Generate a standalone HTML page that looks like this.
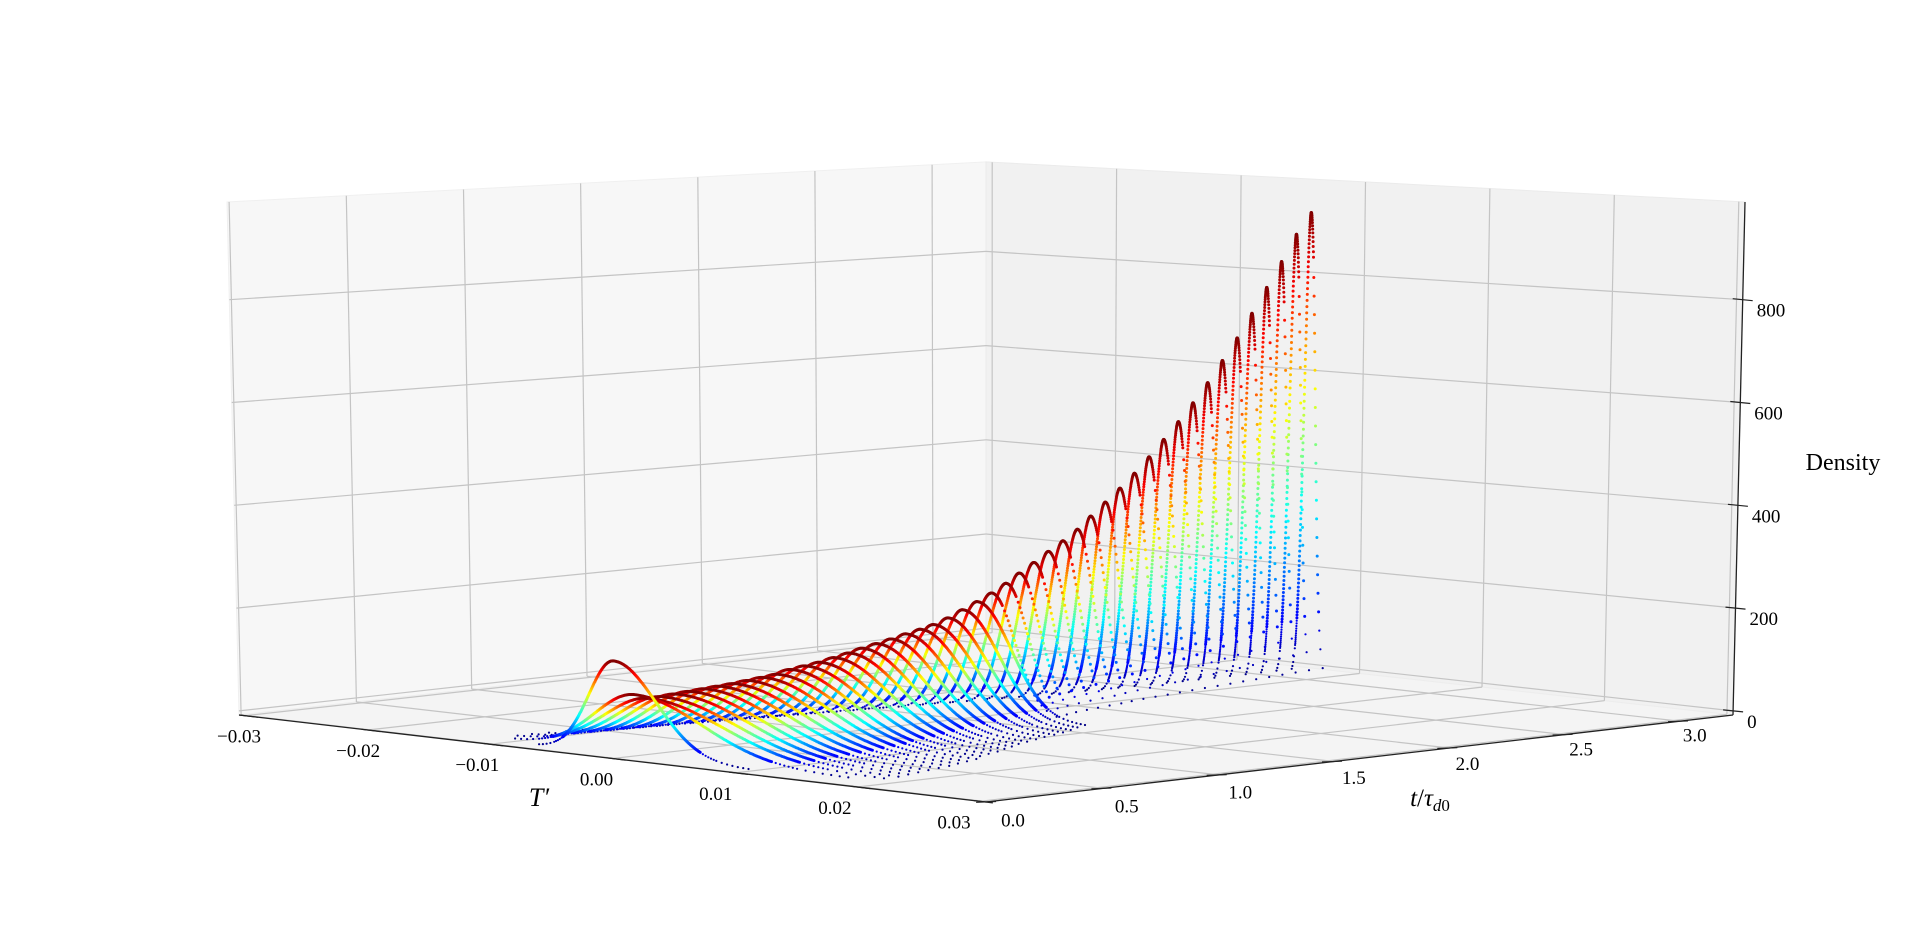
<!DOCTYPE html>
<html><head><meta charset="utf-8"><style>
html,body{margin:0;padding:0;background:#fff;}
svg{display:block;font-family:"Liberation Serif",serif;}
</style></head><body>
<svg id="chart" width="1920" height="949" viewBox="0 0 1920 949" xmlns="http://www.w3.org/2000/svg">
<g id="panes"></g>
<g id="grid"></g>
<g id="axes"></g>
<g id="marks"></g>
<text x="539" y="806" font-size="26" font-style="italic" text-anchor="middle">T′</text>
<text x="1430" y="806" font-size="25" text-anchor="middle"><tspan font-style="italic">t</tspan>/<tspan font-style="italic">τ</tspan><tspan font-size="17" dy="5" font-style="italic">d</tspan><tspan font-size="17">0</tspan></text>
<text x="1843" y="470" font-size="24" text-anchor="middle">Density</text>
</svg>
<script>
// ---- data ----
const tValues = [0,0.0625,0.125,0.1875,0.25,0.3125,0.375,0.4375,0.5,0.5625,0.625,0.6875,0.75,0.8125,0.875,0.9375,1.0,1.0625,1.125,1.1875,1.25,1.3125,1.375,1.4375,1.5,1.5625,1.625,1.6875,1.75,1.8125,1.875,1.9375,2.0,2.0625,2.125,2.1875,2.25,2.3125,2.375,2.4375,2.5,2.5625,2.625,2.6875,2.75,2.8125,2.875,2.9375,3.0];
const peakDensity = [175,110,100,100,102,104,106,108,110,113,116,119,125,129,133,139,145,151,157,163,170,176,182,192,205,218,232,248,265,283,302,320,340,363,388,413,440,470,502,535,570,608,650,693,740,790,840,893,935];
const centerT = [0,0.0005,0.0005,0.0005,0.0005,0.0005,0.0005,0.0005,0.0005,0.0005,0.0005,0.0005,0.0004,0.0004,0.0004,0.0004,0.0004,0.0003,0.0003,0.0003,0.0003,0.0003,0.0002,0.0002,0.0002,0.0002,0.0002,0.0002,0.0001,0.0001,0.0001,0.0001,0.0001,0,0,0,0,0,0,0,0,0,0,0,0,0,0,0,0];
const xTicks = [-0.03,-0.02,-0.01,0.00,0.01,0.02,0.03];
const xTickLabels = ["\u22120.03","\u22120.02","\u22120.01","0.00","0.01","0.02","0.03"];
const yTicks = [0,0.5,1.0,1.5,2.0,2.5,3.0];
const yTickLabels = ["0.0","0.5","1.0","1.5","2.0","2.5","3.0"];
const zTicks = [0,200,400,600,800];
const zTickLabels = ["0","200","400","600","800"];

// ---- projection ----
const Tmin=-0.0305,Tmax=0.0305,tmin=-0.009,tmax=3.23,zmin=-8,zmax=990;
const PA=[239,715],PB=[986,802],PC=[1733,715],PD=[986,632];
const KA=0.514,KB=0.55,KC=0.514,KD=0.471;
const XA=-0.012,XB=0,XC=0.012,XD=0;
function bil(a,b,c,d,u,v){return a*(1-u)*(1-v)+b*u*(1-v)+c*u*v+d*(1-u)*v;}
function proj(T,t,z){
  const u=(T-Tmin)/(Tmax-Tmin), v=(t-tmin)/(tmax-tmin);
  const x=bil(PA[0],PB[0],PC[0],PD[0],u,v), y=bil(PA[1],PB[1],PC[1],PD[1],u,v);
  const zz=z-zmin;
  return [x+bil(XA,XB,XC,XD,u,v)*zz, y-bil(KA,KB,KC,KD,u,v)*zz];
}
const NS="http://www.w3.org/2000/svg";
function el(tag,attrs,parent){const e=document.createElementNS(NS,tag);for(const k in attrs)e.setAttribute(k,attrs[k]);parent.appendChild(e);return e;}
function poly(pts){return pts.map(p=>p[0].toFixed(1)+","+p[1].toFixed(1)).join(" ");}
const panes=document.getElementById('panes'),grid=document.getElementById('grid'),axes=document.getElementById('axes'),marks=document.getElementById('marks');

let p1=el('polygon',{points:poly([proj(Tmin,tmin,zmin),proj(Tmin,tmax,zmin),proj(Tmin,tmax,zmax),proj(Tmin,tmin,zmax)]),fill:'#f7f7f7',stroke:'#f0f0f0'},panes);


let p2=el('polygon',{points:poly([proj(Tmin,tmax,zmin),proj(Tmax,tmax,zmin),proj(Tmax,tmax,zmax),proj(Tmin,tmax,zmax)]),fill:'#f1f1f1',stroke:'#ebebeb'},panes);


let p3=el('polygon',{points:poly([proj(Tmin,tmin,zmin),proj(Tmax,tmin,zmin),proj(Tmax,tmax,zmin),proj(Tmin,tmax,zmin)]),fill:'#f4f4f4',stroke:'#ededed'},panes);



function line(a,b,parent,stroke,w,name){const l=el('line',{x1:a[0].toFixed(1),y1:a[1].toFixed(1),x2:b[0].toFixed(1),y2:b[1].toFixed(1),stroke:stroke,'stroke-width':w},parent);

return l;}
const gc='#c4c4c4';
yTicks.forEach(t=>{line(proj(Tmin,t,zmin),proj(Tmin,t,zmax),grid,gc,1.2,'grid-t-wall');line(proj(Tmin,t,zmin),proj(Tmax,t,zmin),grid,gc,1.2,'grid-t-floor');});
xTicks.forEach(T=>{line(proj(T,tmax,zmin),proj(T,tmax,zmax),grid,gc,1.2,'grid-T-wall');line(proj(T,tmin,zmin),proj(T,tmax,zmin),grid,gc,1.2,'grid-T-floor');});
zTicks.forEach(z=>{line(proj(Tmin,tmin,z),proj(Tmin,tmax,z),grid,gc,1.2,'grid-z-left');line(proj(Tmin,tmax,z),proj(Tmax,tmax,z),grid,gc,1.2,'grid-z-right');});

line(proj(Tmin,tmin,zmin),proj(Tmax,tmin,zmin),axes,'#222',1.3,'x-axis-line');
line(proj(Tmax,tmin,zmin),proj(Tmax,tmax,zmin),axes,'#222',1.3,'y-axis-line');
line(proj(Tmax,tmax,zmin),proj(Tmax,tmax,zmax),axes,'#222',1.3,'z-axis-line');
xTicks.forEach((T,i)=>{
  const a=proj(T,tmin,zmin);
  line([a[0]-6,a[1]-0.7],[a[0]+13,a[1]+1.6],axes,'#222',1.2,'x-tick');
  const u=(T-Tmin)/(Tmax-Tmin);
  const tx=el('text',{x:(a[0]-6-20*u).toFixed(1),y:(a[1]+27).toFixed(1),'font-size':19,'text-anchor':'middle'},axes);
  tx.textContent=xTickLabels[i];
  
  
});
yTicks.forEach((t,i)=>{
  const a=proj(Tmax,t,zmin);
  line([a[0]-12,a[1]+0.5],[a[0]+8,a[1]-0.3],axes,'#222',1.2,'y-tick');
  const v=(t-tmin)/(tmax-tmin);
  const tx=el('text',{x:(a[0]+25-11*v).toFixed(1),y:(a[1]+25-5*v).toFixed(1),'font-size':19,'text-anchor':'middle'},axes);
  tx.textContent=yTickLabels[i];
  
  
});
zTicks.forEach((z,i)=>{
  const a=proj(Tmax,tmax,z);
  line([a[0]-10,a[1]-1],[a[0]+10,a[1]+1],axes,'#222',1.2,'z-tick');
  const tx=el('text',{x:(a[0]+14).toFixed(1),y:(a[1]+17).toFixed(1),'font-size':19},axes);
  tx.textContent=zTickLabels[i];
  
  
});

function jet(x){const c=v=>Math.max(0,Math.min(1,v));
  const r=c(1.5-Math.abs(4*x-3)),g=c(1.5-Math.abs(4*x-2)),b=c(1.5-Math.abs(4*x-1));
  return 'rgb('+Math.round(r*255)+','+Math.round(g*255)+','+Math.round(b*255)+')';}

for(let i=tValues.length-1;i>=0;i--){
  const t=tValues[i],pk=peakDensity[i],c=centerT[i];
  const sig=1/(pk*Math.sqrt(2*Math.PI));
  const early=t<1.6;
  const sL=sig*(early?0.9:0.95), sR=sig*(early?1.5:1.1);
  const g=el('g',{},marks);
  
  
  const pts=[];
  const nL=120;
  for(let k=0;k<=nL;k++){pts.push([c-3*sL+3*sL*k/nL,k]);}
  if(early){const nR=150;for(let k=1;k<=nR;k++)pts.push([c+3.2*sR*k/nR,k]);}
  else{
    const nD=15;for(let k=1;k<=nD;k++)pts.push([c+0.45*sR*k/nD,1]);
    const nR=22;for(let k=1;k<=nR;k++){const f=0.9*(1-k/(nR+0.5));pts.push([c+sR*Math.sqrt(2*Math.log(1/f)),0]);}
  }
  pts.forEach(([T,k])=>{
    if(T<Tmin||T>Tmax)return;
    const s=T<c?sL:sR;
    const z=pk*Math.exp(-0.5*((T-c)/s)**2);
    const f=z/pk;
    if(f<0.12 && k%3!==0 && early) return;
    if(f<0.06 && k%6!==0) return;
    const p=proj(T,t,z);
    const d=el('circle',{cx:p[0].toFixed(1),cy:p[1].toFixed(1),r:f<0.12?1.1:1.5,fill:jet(f)},g);
    
    
  });
}
</script>
</body></html>
